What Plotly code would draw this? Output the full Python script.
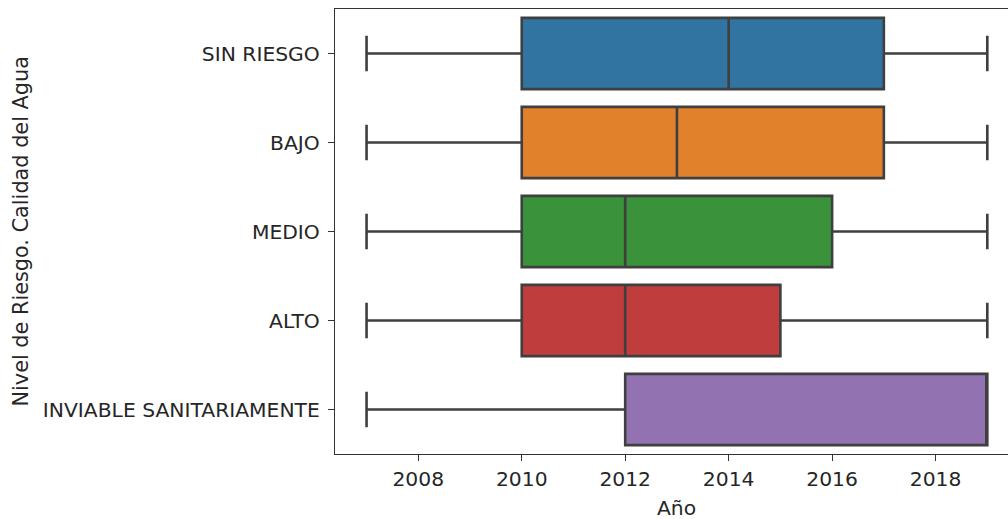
import plotly.graph_objects as go

# Risk levels (top to bottom) and the yearly box statistics for each
categories = ["SIN RIESGO", "BAJO", "MEDIO", "ALTO", "INVIABLE SANITARIAMENTE"]
lower_fence = [2007, 2007, 2007, 2007, 2007]
q1 = [2010, 2010, 2010, 2010, 2012]
median = [2014, 2013, 2012, 2012, 2019]
q3 = [2017, 2017, 2016, 2015, 2019]
upper_fence = [2019, 2019, 2019, 2019, 2019]
colors = ["#3274a1", "#e1812c", "#3a923a", "#c03d3e", "#9372b2"]
x_ticks = [2008, 2010, 2012, 2014, 2016, 2018]

FONT = "DejaVu Sans"
TEXT = "#262626"
EDGE = "#3f3f3f"
SIZE = 20.3

fig = go.Figure()
for i, cat in enumerate(categories):
    fig.add_trace(go.Box(
        y=[cat],
        q1=[q1[i]], median=[median[i]], q3=[q3[i]],
        lowerfence=[lower_fence[i]], upperfence=[upper_fence[i]],
        orientation="h",
        fillcolor=colors[i],
        line=dict(color=EDGE, width=2.6),
        width=0.8,
        whiskerwidth=0.5,
        boxpoints=False,
        showlegend=False,
        hoverinfo="skip",
    ))

fig.update_layout(
    width=1008, height=519,
    margin=dict(l=335, r=0, t=9, b=65),
    paper_bgcolor="white", plot_bgcolor="white",
    boxmode="overlay",
    font=dict(family=FONT, size=SIZE, color=TEXT),
    annotations=[
        dict(text="Año", xref="paper", yref="paper", x=(676 - 335) / 673, y=(454.3 - 508) / 445,
             xanchor="center", yanchor="middle", showarrow=False,
             font=dict(family=FONT, size=SIZE, color=TEXT)),
        dict(text="Nivel de Riesgo. Calidad del Agua", xref="paper", yref="paper",
             x=(20 - 335) / 673, y=0.5, textangle=-90,
             xanchor="center", yanchor="middle", showarrow=False,
             font=dict(family=FONT, size=20.8, color=TEXT)),
    ],
)

fig.update_xaxes(
    range=[2006.39, 2019.40],
    tickmode="array", tickvals=x_ticks, ticktext=[str(t) for t in x_ticks],
    showgrid=False, zeroline=False,
    showline=True, linecolor="#333333", linewidth=1.3, mirror=True,
    ticks="outside", ticklen=6, tickwidth=1.3, tickcolor="#333333",
    ticklabelstandoff=0,
)
fig.update_yaxes(
    type="category", categoryorder="array", categoryarray=categories,
    range=[4.5, -0.5],
    showgrid=False, zeroline=False,
    showline=True, linecolor="#333333", linewidth=1.3, mirror=False,
    ticks="outside", ticklen=6, tickwidth=1.3, tickcolor="#333333",
    ticklabelstandoff=4,
)

fig.write_html("out.html")
